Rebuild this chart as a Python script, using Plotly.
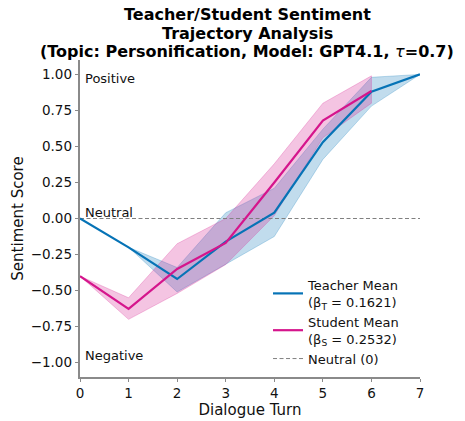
import plotly.graph_objects as go

# ---- data ----
teacher_turns = [0, 1, 2, 3, 4, 5, 6, 7]
teacher_mean = [0.0, -0.20, -0.42, -0.16, 0.04, 0.53, 0.88, 1.0]
teacher_lo = [0.0, -0.20, -0.51, -0.32, -0.125, 0.41, 0.78, 1.0]
teacher_hi = [0.0, -0.20, -0.34, 0.04, 0.21, 0.62, 0.98, 1.0]

student_turns = [0, 1, 2, 3, 4, 5, 6]
student_mean = [-0.40, -0.627, -0.35, -0.17, 0.25, 0.68, 0.885]
student_lo = [-0.40, -0.70, -0.52, -0.32, 0.02, 0.56, 0.80]
student_hi = [-0.40, -0.55, -0.175, 0.0, 0.38, 0.80, 0.99]

y_ticks = [-1.0, -0.75, -0.5, -0.25, 0.0, 0.25, 0.5, 0.75, 1.0]
x_ticks = [0, 1, 2, 3, 4, 5, 6, 7]

title_lines = [
    "<b>Teacher/Student Sentiment</b>",
    "<b>Trajectory Analysis</b>",
    "<b>(Topic: Personification, Model: GPT4.1, </b><i>τ</i><b>=0.7)</b>",
]
teacher_label = "Teacher Mean<br>(β<sub>T</sub> = 0.1621)"
student_label = "Student Mean<br>(β<sub>S</sub> = 0.2532)"
neutral_label = "Neutral (0)"

T_COLOR = "#0673b6"
S_COLOR = "#d5158c"
T_FILL = "rgba(6,115,182,0.25)"
S_FILL = "rgba(213,21,140,0.25)"

FONT = "DejaVu Sans"
OFF = 8  # page body margin
PAGE_W, PAGE_H = 465, 421
W, H = PAGE_W - OFF, PAGE_H - OFF
# plot area on page: x 80..420, y 60..377
L, R, T, B = 80 - OFF, PAGE_W - 420, 60 - OFF, PAGE_H - 377
PH = H - T - B
PW = W - L - R

fig = go.Figure()

# bands
fig.add_trace(go.Scatter(
    x=teacher_turns + teacher_turns[::-1],
    y=teacher_hi + teacher_lo[::-1], mode="lines",
    fill="toself", fillcolor=T_FILL, line=dict(width=0.8, color="rgba(6,115,182,0.3)"),
    hoverinfo="skip", showlegend=False))
fig.add_trace(go.Scatter(
    x=student_turns + student_turns[::-1],
    y=student_hi + student_lo[::-1], mode="lines",
    fill="toself", fillcolor=S_FILL, line=dict(width=0.8, color="rgba(213,21,140,0.3)"),
    hoverinfo="skip", showlegend=False))

# neutral line
fig.add_trace(go.Scatter(
    x=[x_ticks[0], x_ticks[-1]], y=[0, 0], mode="lines",
    line=dict(color="#808080", width=1, dash="4px,2.5px"),
    name=neutral_label, legendrank=3))

# mean lines
fig.add_trace(go.Scatter(
    x=teacher_turns, y=teacher_mean, mode="lines",
    line=dict(color=T_COLOR, width=2.2), name=teacher_label, legendrank=1))
fig.add_trace(go.Scatter(
    x=student_turns, y=student_mean, mode="lines",
    line=dict(color=S_COLOR, width=2.2), name=student_label, legendrank=2))

ann_font = dict(family=FONT, size=13, color="#111")
fig.add_annotation(x=0, y=1.0, text="Positive", showarrow=False, xanchor="left",
                   yanchor="middle", xshift=3, yshift=-4, font=ann_font)
fig.add_annotation(x=0, y=0.0, text="Neutral", showarrow=False, xanchor="left",
                   yanchor="bottom", xshift=3, yshift=-3, font=ann_font)
fig.add_annotation(x=0, y=-0.95, text="Negative", showarrow=False, xanchor="left",
                   yanchor="middle", xshift=3, font=ann_font)

# title lines (page centres near 14, 32.5, 51 px from top)
for line, ypx in zip(title_lines, [14.5, 33, 51.5]):
    fig.add_annotation(
        xref="paper", yref="paper",
        x=(247 - 80) / PW, y=1 + (60 - ypx) / PH,
        text=line, showarrow=False, xanchor="center", yanchor="middle",
        font=dict(family=FONT, size=16, color="#000"))

fig.update_layout(
    width=W, height=H,
    margin=dict(l=L, r=R, t=T, b=B, autoexpand=False),
    paper_bgcolor="white", plot_bgcolor="white",
    font=dict(family=FONT, size=13, color="#111"),
    legend=dict(
        x=0.553, y=(377 - 270) / PH, xanchor="left", yanchor="top",
        bgcolor="rgba(255,255,255,0)", font=dict(family=FONT, size=13),
        tracegroupgap=0, itemwidth=30),
    xaxis=dict(
        range=[0, 7], tickvals=x_ticks, showgrid=False, zeroline=False,
        showline=True, linecolor="#8a8a8a", linewidth=1.5, automargin=False,
        ticks="outside", ticklen=3.5, tickcolor="#8a8a8a",
        tickfont=dict(size=13.5),
        title=dict(text="Dialogue Turn", font=dict(size=15), standoff=4)),
    yaxis=dict(
        range=[-1.1, 1.1], tickvals=y_ticks, tickformat=".2f", showgrid=False,
        zeroline=False, showline=True, linecolor="#8a8a8a", linewidth=1.5,
        automargin=False,
        ticks="outside", ticklen=3.5, tickcolor="#8a8a8a",
        tickfont=dict(size=13.5),
        title=dict(text="Sentiment Score", font=dict(size=15), standoff=3)),
)

fig.write_html("out.html")
